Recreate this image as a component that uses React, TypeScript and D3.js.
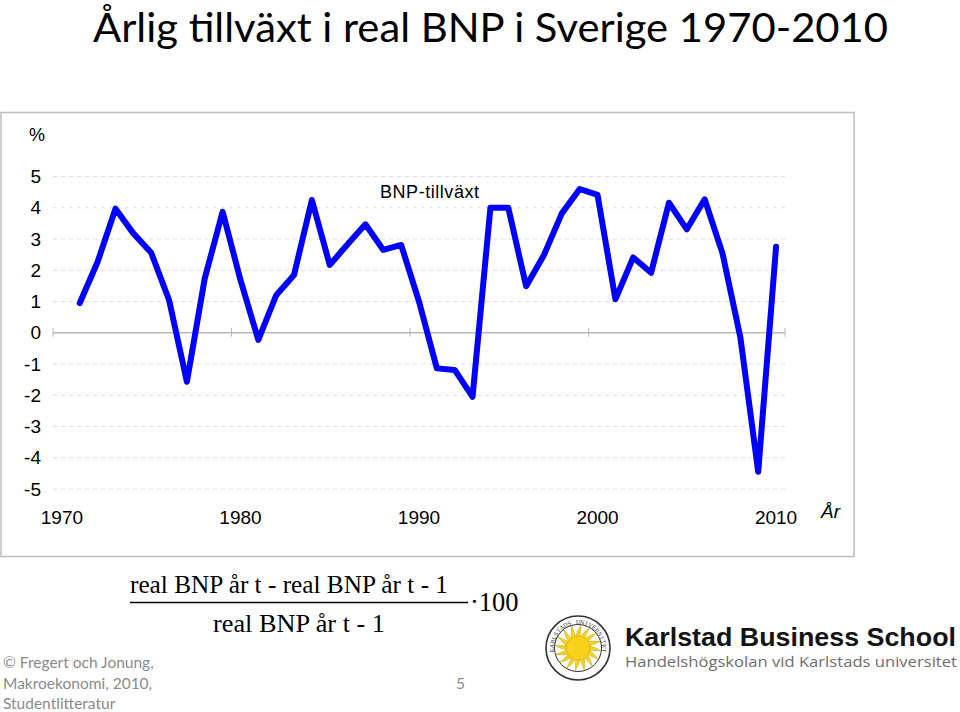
import React from "react";
import * as d3 from "d3";

const years: number[] = d3.range(1970, 2011);
const growth: (number | null)[] = [
  null, 0.95, 2.27, 3.97, 3.18, 2.56, 1.05, -1.57, 1.74, 3.87,
  1.69, -0.23, 1.2, 1.85, 4.25, 2.17, 2.83, 3.47, 2.65, 2.81,
  1.0, -1.14, -1.19, -2.05, 4.0, 4.0, 1.49, 2.49, 3.82, 4.6,
  4.41, 1.07, 2.41, 1.92, 4.16, 3.31, 4.27, 2.54, -0.15, -4.45,
  2.75,
];
const yTicks: number[] = [5, 4, 3, 2, 1, 0, -1, -2, -3, -4, -5];
const xTickYears: number[] = [1970, 1980, 1990, 2000, 2010];

const title = "Årlig tillväxt i real BNP i Sverige 1970-2010";
const seriesLabel = "BNP-tillväxt";
const footerLines = ["© Fregert och Jonung,", "Makroekonomi, 2010,", "Studentlitteratur"];
const ringText = "KARLSTADS UNIVERSITET";

export default function App() {
  const W = 960, H = 712;
  const x = d3.scaleBand<number>().domain(years).range([53, 785]).padding(0);
  const y = d3.scaleLinear().domain([-5, 5]).range([489, 176.5]);
  const cx = (yr: number) => (x(yr) as number) + x.bandwidth() / 2;
  const data = years.map((yr, i) => ({ yr, v: growth[i] }));
  const line = d3
    .line<{ yr: number; v: number | null }>()
    .defined((d) => d.v != null)
    .x((d) => cx(d.yr))
    .y((d) => y(d.v as number));

  const boundaryIdx = [0, 10, 20, 30, 40, 41];
  const boundaryX = (i: number) => 53 + i * x.bandwidth();

  // logo geometry
  const lc = { x: 578, y: 648 };
  const rays = d3.range(16).map((i) => {
    const a = (i / 16) * Math.PI * 2;
    const w = 0.2;
    const r0 = 11, r1 = 23;
    const p = (r: number, ang: number) => [lc.x + r * Math.cos(ang), lc.y + r * Math.sin(ang)];
    const a1 = p(r0, a - w), a2 = p(r1, a + 0.12), a3 = p(r0, a + w);
    const c = p(r0 + 7, a - 0.05);
    return `M${a1[0]},${a1[1]} Q${c[0]},${c[1]} ${a2[0]},${a2[1]} L${a3[0]},${a3[1]} Z`;
  });
  const ringR = 26;
  const chars = ringText.split("");
  const span = 200; // degrees covered by text
  const ringChars = chars.map((ch, i) => {
    const deg = -90 - span / 2 + (i + 0.5) * (span / chars.length);
    const rad = (deg * Math.PI) / 180;
    return {
      ch,
      x: lc.x + ringR * Math.cos(rad),
      y: lc.y + ringR * Math.sin(rad),
      rot: deg + 90,
    };
  });

  const sans = "'Liberation Sans', Arial, sans-serif";
  const serif = "'Liberation Serif', 'Times New Roman', serif";

  return (
    <svg width={W} height={H} viewBox={`0 0 ${W} ${H}`} style={{ position: "absolute", left: 0, top: 0, background: "#fff" }}>
      <rect x={0} y={0} width={W} height={H} fill="#fff" />
      <text x={93} y={42} fontFamily="Lato, 'Open Sans', sans-serif" fontSize={41} fill="#000" textLength={795} lengthAdjust="spacingAndGlyphs">
        {title}
      </text>

      {/* chart frame */}
      <rect x={1} y={112.5} width={853} height={444} fill="#fff" stroke="#bdbdbd" strokeWidth={1.5} />

      {/* grid */}
      {yTicks.filter((t) => t !== 0).map((t) => (
        <line key={t} x1={53} x2={785} y1={y(t)} y2={y(t)} stroke="#dcdcdc" strokeWidth={1} strokeDasharray="4,4" />
      ))}
      <line x1={53} x2={785} y1={y(0)} y2={y(0)} stroke="#b8b8b8" strokeWidth={1.5} />
      {boundaryIdx.map((i) => (
        <line key={i} x1={boundaryX(i)} x2={boundaryX(i)} y1={y(0) - 5} y2={y(0) + 4} stroke="#b8b8b8" strokeWidth={1} />
      ))}

      {/* y labels */}
      {yTicks.map((t) => (
        <text key={t} x={41} y={y(t) + 6.5} textAnchor="end" fontFamily={sans} fontSize={19} fill="#000">
          {t}
        </text>
      ))}
      <text x={29} y={141} fontFamily={sans} fontSize={18} fill="#000">%</text>

      {/* x labels */}
      {xTickYears.map((yr) => (
        <text key={yr} x={cx(yr)} y={524} textAnchor="middle" fontFamily={sans} fontSize={19} fill="#000">
          {yr}
        </text>
      ))}
      <text x={821} y={518} fontFamily={sans} fontStyle="italic" fontSize={19} fill="#000">År</text>

      <text x={380} y={198} fontFamily={sans} fontSize={18} fill="#000" textLength={99}>
        {seriesLabel}
      </text>

      {/* series */}
      <path d={line(data) || ""} fill="none" stroke="#0000ff" strokeWidth={6} strokeLinejoin="round" strokeLinecap="round" />

      {/* formula */}
      <text x={130} y={593} fontFamily={serif} fontSize={26} fill="#000" textLength={318} lengthAdjust="spacingAndGlyphs">
        real BNP år t - real BNP år t - 1
      </text>
      <line x1={130} x2={468} y1={602.5} y2={602.5} stroke="#000" strokeWidth={1.3} />
      <text x={213} y={632} fontFamily={serif} fontSize={26} fill="#000" textLength={172} lengthAdjust="spacingAndGlyphs">
        real BNP år t - 1
      </text>
      <text x={470} y={611} fontFamily={serif} fontSize={26.5} fill="#000">
        ·100
      </text>

      {/* footer */}
      {footerLines.map((s, i) => (
        <text key={i} x={3} y={668 + i * 20.5} fontFamily="Lato, 'Open Sans', sans-serif" fontSize={15.5} fill="#8a8a8a">
          {s}
        </text>
      ))}
      <text x={456} y={689} fontFamily="Lato, 'Open Sans', sans-serif" fontSize={15.5} fill="#8a8a8a">5</text>

      {/* logo */}
      <circle cx={lc.x} cy={lc.y} r={32} fill="#fff" stroke="#333" strokeWidth={1.6} />
      <circle cx={lc.x} cy={lc.y} r={23.5} fill="#fff" stroke="#333" strokeWidth={1} />
      {rays.map((d, i) => (
        <path key={i} d={d} fill="#f6d22a" stroke="#c9a000" strokeWidth={0.5} />
      ))}
      <circle cx={lc.x} cy={lc.y} r={12} fill="#f8d11c" stroke="#d9ab00" strokeWidth={0.6} />
      {ringChars.map((c, i) => (
        <text key={i} x={c.x} y={c.y} textAnchor="middle" dominantBaseline="central" fontFamily="'DejaVu Serif', serif" fontSize={5.5} fill="#333" transform={`rotate(${c.rot} ${c.x} ${c.y})`}>
          {c.ch}
        </text>
      ))}
      <text x={625} y={646} fontFamily={sans} fontWeight="bold" fontSize={25} fill="#141414" textLength={331} lengthAdjust="spacingAndGlyphs">
        Karlstad Business School
      </text>
      <text x={625} y={667} fontFamily="'Open Sans', 'DejaVu Sans', sans-serif" fontSize={15} fill="#6e6e6e" textLength={332} lengthAdjust="spacingAndGlyphs">
        Handelshögskolan vid Karlstads universitet
      </text>
    </svg>
  );
}
